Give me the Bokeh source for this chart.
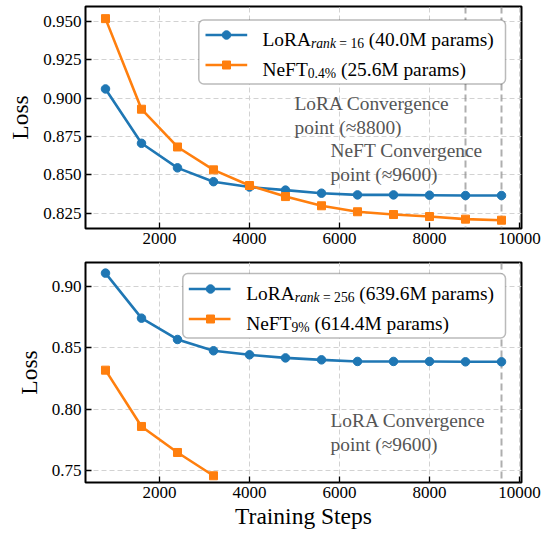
from bokeh.plotting import figure
from bokeh.layouts import column
from bokeh.models import Range1d, FixedTicker, NumeralTickFormatter, Span, Label, BoxAnnotation
from bokeh.embed import file_html
from bokeh.resources import INLINE

# ---------------- data ----------------
steps = [800, 1600, 2400, 3200, 4000, 4800, 5600, 6400, 7200, 8000, 8800, 9600]
lora16_loss = [0.9059, 0.8705, 0.8545, 0.8455, 0.8420, 0.8400, 0.8380, 0.8369, 0.8369, 0.8367, 0.8365, 0.8365]
neft04_loss = [0.9517, 0.8927, 0.8681, 0.8532, 0.8430, 0.8358, 0.8298, 0.8259, 0.8241, 0.8228, 0.8211, 0.8204]
lora256_loss = [0.9109, 0.8742, 0.8568, 0.8476, 0.8443, 0.8418, 0.8402, 0.8389, 0.8389, 0.8389, 0.8386, 0.8386]
neft9_steps = [800, 1600, 2400, 3200]
neft9_loss = [0.8318, 0.7859, 0.7647, 0.7457]
x_ticks = [2000, 4000, 6000, 8000, 10000]
top_y_ticks = [0.825, 0.850, 0.875, 0.900, 0.925, 0.950]
bot_y_ticks = [0.75, 0.80, 0.85, 0.90]
top_converge_names = ["LoRA", "NeFT"]
top_converge_steps = [8800, 9600]
bot_converge_names = ["LoRA"]
bot_converge_steps = [9600]

# ---------------- style ----------------
FONT = "Liberation Serif"
BLUE = "#1f77b4"
ORANGE = "#ff7f0e"
W = 545
H1, H2 = 252, 283
X_RANGE = (355.6, 10044.4)
TOP_Y = (0.8150, 0.9596)
BOT_Y = (0.74022, 0.91956)
LEG_F = 19.4
SUB_F = 13.6

EM = {' ': 0.25, '(': 0.333, ')': 0.333, '.': 0.25, '%': 0.833, '=': 0.564,
      'L': 0.611, 'o': 0.5, 'R': 0.667, 'A': 0.722, 'N': 0.722, 'e': 0.444,
      'F': 0.556, 'T': 0.611, 'M': 0.889, 'p': 0.5, 'a': 0.444, 'r': 0.333,
      'm': 0.778, 's': 0.389, 'n': 0.5, 'k': 0.5}
EM_IT = {'r': 0.389, 'a': 0.5, 'n': 0.5, 'k': 0.444}


def text_w(t, size, style):
    tot = 0.0
    for ch in t:
        if ch.isdigit():
            tot += 0.5
        elif style == "italic" and ch in EM_IT:
            tot += EM_IT[ch]
        else:
            tot += EM.get(ch, 0.5)
    return tot * size


def mapper(x_rng, y_rng, left, right, top, bottom):
    def fx(px):
        return x_rng[0] + (px - left) / (right - left) * (x_rng[1] - x_rng[0])

    def fy(py):
        return y_rng[1] - (py - top) / (bottom - top) * (y_rng[1] - y_rng[0])
    return fx, fy


def make_fig(height, y_rng, b_top, b_bottom, yticks, yfmt, xlabel):
    p = figure(width=W, height=height, output_backend="svg", toolbar_location=None,
               x_range=Range1d(*X_RANGE), y_range=Range1d(*y_rng),
               min_border_left=85, min_border_right=24,
               min_border_top=b_top, min_border_bottom=b_bottom)
    p.outline_line_color = "black"
    p.outline_line_width = 2
    p.outline_line_alpha = 1
    p.background_fill_color = "white"
    p.border_fill_color = "white"
    p.axis.axis_line_color = None
    p.axis.major_tick_in = 6
    p.axis.major_tick_out = 0
    p.axis.major_tick_line_color = "black"
    p.axis.major_tick_line_width = 1.3
    p.axis.minor_tick_line_color = None
    p.axis.major_label_text_font = FONT
    p.axis.major_label_text_font_size = "17px"
    p.axis.major_label_text_font_style = "normal"
    p.axis.major_label_text_color = "black"
    p.axis.major_label_standoff = 4
    p.axis.axis_label_text_font = FONT
    p.axis.axis_label_text_font_size = "23.5px"
    p.axis.axis_label_text_font_style = "normal"
    p.axis.axis_label_text_color = "black"
    p.xaxis.ticker = FixedTicker(ticks=x_ticks)
    p.xaxis.formatter = NumeralTickFormatter(format="0")
    p.yaxis.ticker = FixedTicker(ticks=yticks)
    p.yaxis.formatter = NumeralTickFormatter(format=yfmt)
    p.yaxis.axis_label = "Loss"
    p.yaxis.axis_label_standoff = 7
    if xlabel:
        p.xaxis.axis_label = xlabel
        p.xaxis.axis_label_standoff = 2
    p.grid.grid_line_color = "#d2d2d2"
    p.grid.grid_line_dash = "5 3"
    p.grid.grid_line_width = 1
    return p


def add_series(p, xs, ys, color, marker, size):
    p.line(xs, ys, line_color=color, line_width=2.6)
    p.scatter(xs, ys, marker=marker, size=size, fill_color=color, line_color=color)


def add_converge(p, names, cps, tops, fy):
    for name, cp, top in zip(names, cps, tops):
        p.add_layout(Span(location=cp, dimension="height", line_color="#8c8c8c",
                          line_alpha=0.7, line_dash="7 4", line_width=2, level="underlay"))
    for name, cp, top in zip(names, cps, tops):
        p.add_layout(Label(x=cp - 3800, y=fy(top), text=f"{name} Convergence\npoint (\u2248{cp})",
                           text_font=FONT, text_font_size="19.4px", text_color="#555555",
                           text_baseline="top", text_align="left", text_line_height=1.15))


def add_legend(p, fx, fy, box, rows, sample):
    p.add_layout(BoxAnnotation(left=fx(box[0]), right=fx(box[2]), top=fy(box[1]), bottom=fy(box[3]),
                               fill_color="white", fill_alpha=1.0, line_color="#1a1a1a",
                               line_width=1.5, border_radius=5))
    x0, x1, xm, xt = sample
    for color, marker, msize, yc, pieces in rows:
        p.line([fx(x0), fx(x1)], [fy(yc), fy(yc)], line_color=color, line_width=2.6, level="overlay")
        p.scatter([fx(xm)], [fy(yc)], marker=marker, size=msize, fill_color=color,
                  line_color=color, level="overlay")
        cur = xt
        base = yc + 4.5
        for text, size, style, dy, gap in pieces:
            cur += gap * size
            p.add_layout(Label(x=fx(cur), y=fy(base + dy), text=text, text_font=FONT,
                               text_font_size=f"{size}px", text_font_style=style,
                               text_color="black", text_baseline="alphabetic", text_align="left"))
            cur += text_w(text, size, style)


# ---------------- top panel ----------------
p1 = make_fig(H1, TOP_Y, 6, 24, top_y_ticks, "0.000", None)
fx1, fy1 = mapper(X_RANGE, TOP_Y, 85, 521, 6, 228)
add_converge(p1, top_converge_names, top_converge_steps, [92.7, 139.3], fy1)
add_series(p1, steps, lora16_loss, BLUE, "circle", 8.5)
add_series(p1, steps, neft04_loss, ORANGE, "square", 8)
add_legend(p1, fx1, fy1, (198.3, 19.5, 505, 83.5),
           [(BLUE, "circle", 8.5, 34.5,
             [("LoRA", LEG_F, "normal", 0, 0), ("rank", SUB_F, "italic", 3.5, 0),
              ("=", SUB_F, "normal", 3.5, 0.25), ("16", SUB_F, "normal", 3.5, 0.25),
              ("(40.0M params)", LEG_F, "normal", 0, 0.25)]),
            (ORANGE, "square", 8, 64.5,
             [("NeFT", LEG_F, "normal", 0, 0), ("0.4%", SUB_F, "normal", 3.5, 0),
              ("(25.6M params)", LEG_F, "normal", 0, 0.25)])],
           (205, 246.7, 226, 262))

# ---------------- bottom panel ----------------
p2 = make_fig(H2, BOT_Y, 10, 53, bot_y_ticks, "0.00", "Training Steps")
fx2, fy2 = mapper(X_RANGE, BOT_Y, 85, 521, 262, 482)
add_converge(p2, bot_converge_names, bot_converge_steps, [409], fy2)
add_series(p2, steps, lora256_loss, BLUE, "circle", 8.5)
add_series(p2, neft9_steps, neft9_loss, ORANGE, "square", 8)
add_legend(p2, fx2, fy2, (182.3, 273, 505, 337.5),
           [(BLUE, "circle", 8.5, 288.5,
             [("LoRA", LEG_F, "normal", 0, 0), ("rank", SUB_F, "italic", 3.5, 0),
              ("=", SUB_F, "normal", 3.5, 0.25), ("256", SUB_F, "normal", 3.5, 0.25),
              ("(639.6M params)", LEG_F, "normal", 0, 0.25)]),
            (ORANGE, "square", 8, 318.5,
             [("NeFT", LEG_F, "normal", 0, 0), ("9%", SUB_F, "normal", 3.5, 0),
              ("(614.4M params)", LEG_F, "normal", 0, 0.25)])],
           (188.3, 230, 210, 245.7))

layout = column(p1, p2, spacing=0)
open("out.html", "w").write(file_html(layout, INLINE))
